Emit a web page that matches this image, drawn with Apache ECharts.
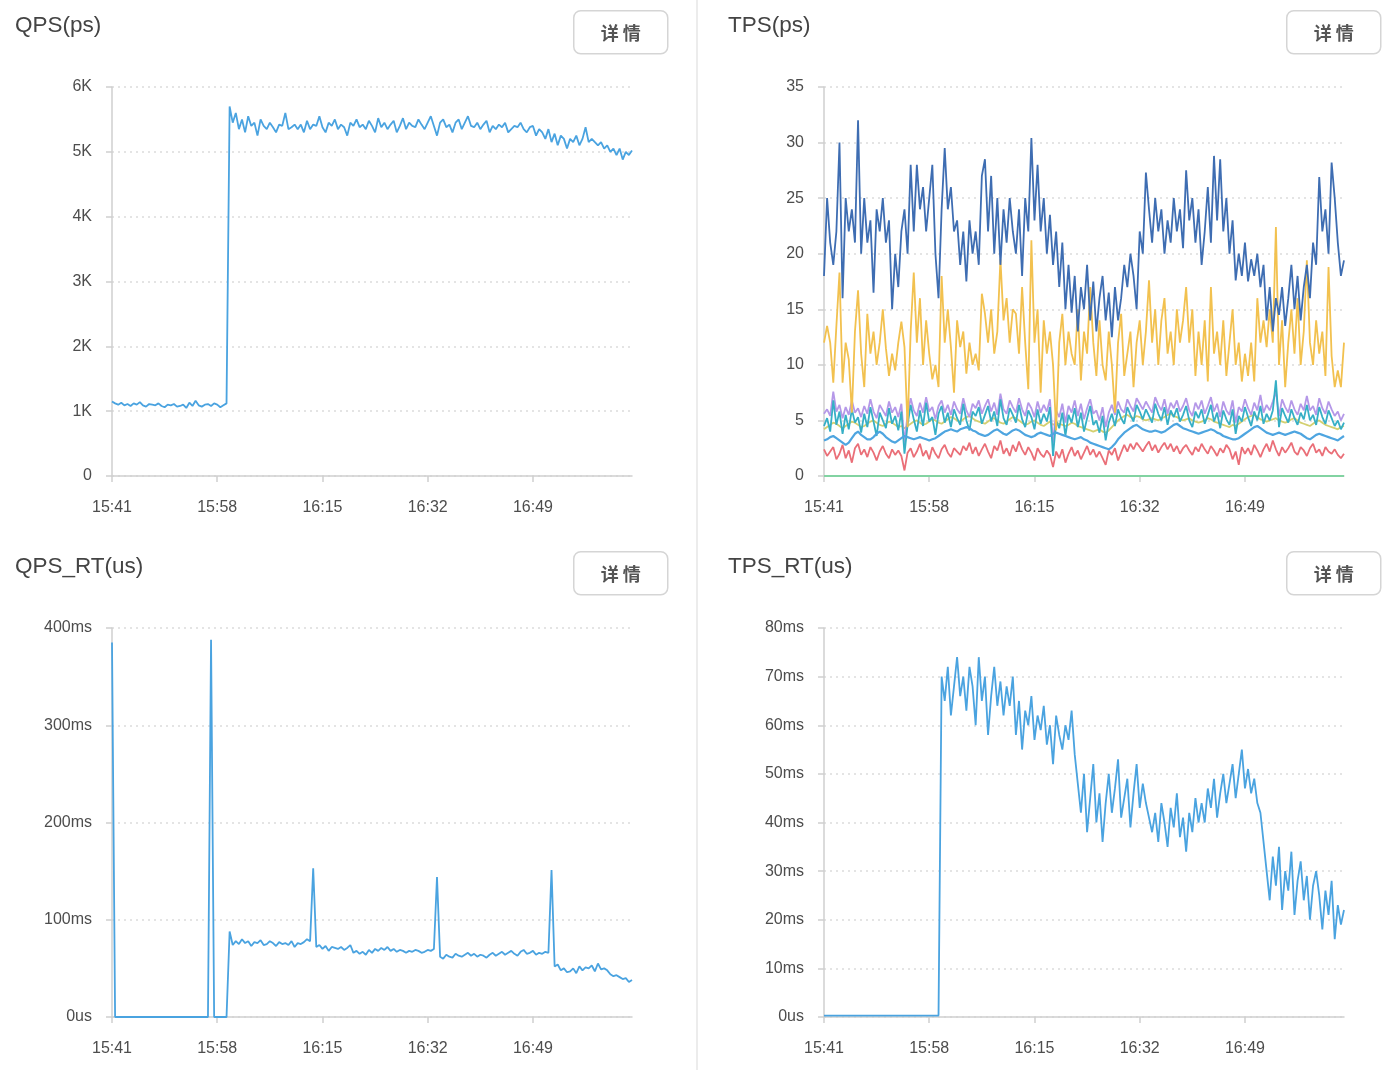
<!DOCTYPE html>
<html>
<head>
<meta charset="utf-8">
<title>QPS / TPS</title>
<script src="https://cdn.jsdelivr.net/npm/echarts@6.0.0/dist/echarts.min.js"></script>
<style>
  html, body { margin: 0; padding: 0; background: #fff; }
  #main { width: 1392px; height: 1070px; }
</style>
</head>
<body>
<div id="main"></div>
<script>
// 30s samples from 15:41:00 to 17:05:00
const tickLabels = ['15:41', '15:58', '16:15', '16:32', '16:49'];

const qps = [
  1150, 1120, 1100, 1130, 1090, 1110, 1080, 1120, 1100, 1140, 1090, 1070, 1110,
  1100, 1090, 1120, 1080, 1060, 1100, 1090, 1110, 1070, 1080, 1100, 1050, 1130,
  1080, 1160, 1090, 1070, 1100, 1110, 1080, 1120, 1100, 1060, 1090, 1120, 5700,
  5450, 5600, 5350, 5500, 5300, 5550, 5400, 5450, 5250, 5500, 5400, 5350, 5450,
  5380, 5300, 5420, 5400, 5600, 5350, 5380, 5420, 5350, 5420, 5300, 5480, 5350,
  5420, 5400, 5550, 5380, 5300, 5450, 5400, 5500, 5350, 5420, 5380, 5250, 5450,
  5400, 5500, 5380, 5420, 5350, 5480, 5400, 5300, 5520, 5380, 5450, 5350, 5420,
  5480, 5300, 5400, 5520, 5350, 5450, 5400, 5380, 5500, 5420, 5350, 5450, 5550,
  5400, 5250, 5450, 5500, 5380, 5420, 5300, 5450, 5500, 5350, 5450, 5550, 5400,
  5380, 5450, 5350, 5420, 5480, 5300, 5400, 5350, 5420, 5380, 5450, 5300, 5350,
  5400, 5380, 5450, 5350, 5300, 5380, 5400, 5250, 5350, 5300, 5200, 5350, 5150,
  5280, 5100, 5250, 5200, 5050, 5200, 5150, 5250, 5100, 5200, 5380, 5150, 5200,
  5150, 5100, 5150, 5050, 5100, 5000, 5050, 4950, 5050, 4880, 5000, 4950, 5020
];

const tpsBlue = [
  18, 25, 21, 19, 22, 30, 16, 25, 22, 24, 21, 32, 20,
  25, 21, 23, 16.5, 24, 22, 25, 21, 23, 15, 20, 17, 22,
  24, 20, 28, 22, 28, 24, 26, 22, 25, 28, 20, 16, 24,
  29.5, 24, 26, 22, 23, 19, 22, 17.5, 23, 20, 22, 19, 27,
  28.5, 22, 27, 20, 25, 19, 24, 21, 25, 22, 20, 24, 18,
  25, 22, 30.4, 23, 28, 22, 25, 20, 23.5, 19, 22, 17, 21,
  15, 19, 14.7, 18, 13, 17, 15, 19, 14, 17.5, 13, 16, 18,
  14, 16.5, 12.5, 17, 14, 16, 19, 17, 20, 18, 15, 22, 20,
  27.3, 24, 21, 25, 22, 24, 20, 23, 21, 25, 22, 24, 20.5,
  27.5, 23, 25, 21, 24, 19, 22, 26, 21, 28.8, 23, 28.5, 22,
  25, 20, 23, 17.6, 20, 18, 21, 17.5, 19.5, 18, 20, 17, 19,
  14, 17, 13, 16, 14.5, 17, 13.5, 16, 19, 15, 18, 14, 17,
  19, 16, 21, 19, 26.9, 22, 24, 20, 28.2, 25, 21, 18, 19.4
];

const tpsYellow = [
  12, 13.5, 12, 8.4, 13.5, 18.3, 8.4, 12, 10.5, 5.7, 13, 16.7, 11,
  8, 14.6, 11, 13, 10, 12, 15, 11.5, 9, 11, 9.5, 12, 13.9,
  11.6, 4.4, 13, 18.3, 12, 16, 10, 14, 11, 8.7, 10, 8, 18,
  12, 15, 11.6, 7.5, 14, 11.6, 13, 9.2, 12, 10, 11, 9.5, 16.4,
  14.6, 12, 15, 11, 13, 19.5, 14, 16, 12, 15, 14.6, 11, 17,
  12, 7.8, 21.2, 12, 15, 7.5, 14, 11, 13, 10, 4.1, 12, 14.6,
  10, 13, 11, 10, 15, 8.6, 13, 11, 17, 12, 9, 14, 10,
  8.6, 13, 10, 5.7, 12, 14.6, 9, 11, 13, 8, 12, 14, 10,
  13, 17.6, 12, 15, 10, 14, 16, 11, 13, 10, 15, 12, 14,
  17, 12, 15, 9, 13, 10, 14, 8.5, 17, 11, 13, 10, 14,
  9, 12, 15, 10, 12, 8.5, 11, 9, 12, 8.5, 16, 12, 14,
  11.6, 15, 12, 22.4, 10, 14, 8, 12, 15, 11, 16, 10, 13,
  19.4, 12, 10, 14, 11, 13, 9, 18.8, 10.8, 8, 9.5, 8, 12
];

const tpsPurple = [
  5.6, 6.0, 5.4, 7.6, 5.8, 6.4, 5.2, 6.2, 5.5, 6.8, 5.7, 6.1, 5.3,
  6.3, 5.6, 6.9, 5.8, 5.2, 6.4, 5.9, 5.4, 6.7, 5.7, 6.2, 5.3, 6.5,
  3.0, 5.5, 7.0, 5.9, 5.4, 6.6, 5.7, 7.1, 5.8, 6.2, 5.1, 6.3, 6.8,
  5.7, 6.4, 5.5, 6.7, 6.0, 5.6, 7.0, 5.9, 5.3, 6.5, 6.1, 6.8, 5.6,
  6.3, 6.9, 5.8, 6.6, 5.5, 7.4, 6.0, 5.6, 6.8, 6.2, 5.7, 7.0, 6.0,
  5.4, 6.6, 6.1, 5.3, 6.7, 5.7, 6.4, 5.8, 6.9, 3.0, 5.9, 5.3, 6.5,
  4.8, 6.3, 5.7, 6.8, 5.4, 6.5, 5.1, 6.1, 6.9, 5.6, 5.9, 5.0, 6.2,
  4.4, 5.7, 6.4, 5.5, 6.7, 6.0, 5.7, 6.9, 6.3, 5.8, 7.0, 6.5, 6.0,
  6.7, 6.2, 5.7, 7.1, 6.4, 5.9, 6.9, 5.6, 6.6, 6.1, 6.8, 5.8, 6.3,
  7.0, 5.9, 5.4, 6.6, 6.0, 6.8, 5.6, 6.3, 7.1, 5.8, 6.5, 5.3, 6.7,
  5.9, 5.5, 6.8, 4.8, 6.2, 5.8, 6.9, 6.1, 5.5, 6.6, 5.9, 7.3, 5.7,
  6.4, 5.9, 6.7, 7.6, 5.4, 6.9, 6.2, 5.7, 6.8, 6.0, 5.5, 6.5, 5.9,
  7.2, 5.9, 6.3, 5.5, 7.0, 6.1, 5.6, 6.7, 6.0, 5.4, 5.8, 5.0, 5.6
];

const tpsTeal = [
  4.5, 5.2, 4.0, 6.8, 4.6, 5.8, 3.8, 5.5, 4.2, 6.0, 4.8, 5.3, 3.9,
  5.6, 4.4, 6.2, 4.9, 3.6, 5.7, 5.0, 4.3, 6.1, 4.7, 5.4, 4.1, 5.8,
  2.0, 4.6, 6.4, 5.1, 4.0, 5.9, 4.5, 6.6, 4.9, 5.3, 3.7, 5.6, 6.3,
  4.8, 5.7, 4.4, 6.0, 5.2, 4.6, 6.5, 5.0, 4.1, 5.8, 5.4, 6.2, 4.7,
  5.5, 6.3, 4.9, 5.8, 4.5, 6.9, 5.2, 4.6, 6.1, 5.5, 4.8, 6.4, 5.1,
  4.4, 5.9, 5.3, 4.2, 6.0, 4.7, 5.6, 4.9, 6.2, 1.8, 5.0, 4.3, 5.7,
  3.6, 5.5, 4.8, 6.1, 4.4, 5.7, 4.0, 5.2, 6.3, 4.6, 5.0, 3.9, 5.4,
  3.2, 4.8, 5.6, 4.5, 6.0, 5.2, 4.7, 6.2, 5.5, 4.9, 6.4, 5.8, 5.1,
  6.0, 5.4, 4.8, 6.5, 5.6, 5.0, 6.2, 4.6, 5.9, 5.3, 6.1, 4.9, 5.5,
  6.3, 5.0, 4.4, 5.8, 5.2, 6.0, 4.7, 5.5, 6.4, 4.9, 5.7, 4.3, 5.9,
  5.1, 4.6, 6.0, 3.8, 5.4, 4.9, 6.2, 5.3, 4.5, 5.8, 5.0, 6.3, 4.7,
  5.6, 5.0, 5.9, 8.6, 4.4, 6.1, 5.4, 4.8, 6.0, 5.2, 4.6, 5.7, 5.1,
  6.4, 5.0, 5.5, 4.6, 6.2, 5.3, 4.7, 5.9, 5.2, 4.5, 5.0, 4.2, 4.8
];

const tpsOlive = [
  4.2, 4.4, 4.6, 4.8, 4.7, 4.5, 4.3, 4.5, 4.7, 4.9, 4.8, 4.6, 4.4,
  4.5, 4.7, 4.9, 5.0, 4.8, 4.6, 4.5, 4.7, 4.9, 4.8, 4.6, 4.4, 4.5,
  4.3, 4.5, 4.7, 4.9, 5.0, 4.8, 4.6, 4.7, 4.9, 5.1, 5.0, 4.8, 4.7,
  4.9, 5.1, 5.3, 5.2, 5.0, 4.9, 5.1, 5.3, 5.4, 5.2, 5.0, 4.9, 4.8,
  4.7, 4.9, 5.1, 5.2, 5.0, 4.8, 4.7, 4.9, 5.1, 5.3, 5.2, 5.0, 4.8,
  4.6, 4.7, 4.9, 5.0, 4.8, 4.6, 4.5, 4.7, 4.9, 4.6, 4.8, 4.7, 4.6,
  4.5, 4.6, 4.8, 4.7, 4.5, 4.4, 4.3, 4.2, 4.1, 4.0, 4.1, 4.2, 4.0,
  3.9, 4.1, 4.4, 4.7, 5.0, 5.2, 5.4, 5.5, 5.3, 5.2, 5.4, 5.3, 5.1,
  5.0, 5.1, 5.2, 5.1, 5.0, 5.2, 5.3, 5.5, 5.6, 5.4, 5.3, 5.1, 5.0,
  5.1, 5.2, 5.0, 4.9, 4.8, 4.9, 5.0, 5.2, 5.1, 4.9, 4.8, 4.7, 4.6,
  4.5, 4.4, 4.6, 4.5, 4.7, 4.9, 5.1, 5.3, 5.4, 5.5, 5.3, 5.1, 5.0,
  4.9, 5.0, 5.1, 5.2, 5.0, 4.9, 4.8, 4.9, 5.1, 5.2, 5.0, 4.8, 4.7,
  4.6, 4.5, 4.7, 4.9, 5.0, 4.8, 4.6, 4.5, 4.4, 4.3, 4.2, 4.4, 4.5
];

const tpsLightBlue = [
  3.2, 3.3, 3.5, 3.6, 3.4, 3.2, 3.0, 2.8, 3.0, 3.4, 3.8, 4.0, 3.7,
  3.5, 3.3, 3.3, 3.5, 3.8, 4.0, 3.8, 3.5, 3.3, 3.1, 3.0, 3.2, 3.4,
  3.6, 3.5, 3.4, 3.3, 3.4, 3.5, 3.4, 3.3, 3.2, 3.3, 3.4, 3.6, 3.8,
  4.0, 4.1, 4.2, 4.1, 4.0, 4.2, 4.3, 4.4, 4.3, 4.1, 4.0, 3.8, 3.7,
  3.6, 3.7, 3.9, 4.1, 4.2, 4.0, 3.8, 3.7, 3.9, 4.1, 4.2, 4.1, 3.9,
  3.7, 3.6, 3.5, 3.6, 3.8, 3.9, 3.8, 3.7, 3.6, 3.8, 3.9, 3.8, 3.7,
  3.6, 3.5, 3.4, 3.3, 3.4, 3.5, 3.3, 3.2, 3.0, 2.9, 2.8, 2.7, 2.6,
  2.5, 2.4, 2.6, 2.9, 3.3, 3.6, 3.9, 4.1, 4.3, 4.5, 4.6, 4.4, 4.2,
  4.1, 4.0, 4.0, 4.1, 4.0, 3.9, 4.0, 4.2, 4.4, 4.6, 4.7, 4.5, 4.3,
  4.2, 4.1, 4.0, 3.9, 3.8, 3.9, 4.0, 4.1, 4.2, 4.1, 3.9, 3.8, 3.6,
  3.5, 3.4, 3.3, 3.3, 3.4, 3.6, 3.8, 4.0, 4.2, 4.4, 4.5, 4.3, 4.1,
  3.9, 3.8, 3.7, 3.8, 3.9, 3.8, 3.7, 3.8, 3.9, 4.0, 3.9, 3.8, 3.6,
  3.4, 3.3, 3.5, 3.7, 3.8, 3.7, 3.6, 3.5, 3.4, 3.3, 3.2, 3.4, 3.6
];

const tpsRed = [
  2.4, 1.8, 2.2, 2.6, 1.5, 2.0, 2.8, 1.6, 2.3, 1.2, 2.5, 2.9, 1.9,
  2.4, 1.7, 2.6, 2.1, 1.4, 2.2, 2.7, 2.0, 1.6, 2.4, 1.9, 2.3, 1.8,
  0.5, 2.1, 2.5, 1.7, 2.2, 2.9, 1.8, 2.3, 1.5, 2.6, 2.0, 1.6, 2.4,
  2.8, 2.1, 1.7, 2.5, 2.2, 1.9, 2.7, 2.3, 3.0, 2.0, 2.6, 1.8, 2.4,
  2.9, 2.2, 1.6, 2.7, 2.3, 3.2, 2.0, 2.5, 1.8, 2.8, 2.2, 3.1, 2.4,
  1.9, 2.6, 2.1, 1.4, 2.5, 2.0, 1.7, 2.3, 1.9, 0.8, 2.2, 1.6, 2.4,
  1.2, 2.0, 2.6, 1.8, 2.3, 1.5, 2.1, 2.7, 1.9, 2.4, 1.7, 2.2, 1.6,
  1.0, 2.3, 1.9, 2.5, 1.4, 2.1, 2.8, 2.2, 2.9, 2.4, 3.0, 2.6, 2.2,
  2.7, 3.1, 2.3, 2.8, 2.1, 2.6, 3.0, 2.4, 2.9, 2.2, 2.7, 2.0, 2.5,
  2.8, 2.3, 1.9, 2.6, 2.2, 2.9, 2.4, 2.0, 2.7, 2.3, 1.8, 2.5, 2.1,
  2.8, 2.4, 1.5, 2.2, 1.0, 2.6, 2.0, 2.5, 1.9, 2.8, 2.3, 1.7, 2.4,
  2.9, 2.2, 3.2, 2.4, 1.8, 2.6, 2.1, 2.5, 3.0, 2.2, 1.9, 2.6, 2.3,
  1.8, 2.5, 2.9, 2.1, 2.4, 1.8, 2.6, 2.2, 2.0, 2.4, 1.9, 1.6, 2.0
];

const tpsGreen = [
  0, 0, 0, 0, 0, 0, 0, 0, 0, 0, 0, 0, 0,
  0, 0, 0, 0, 0, 0, 0, 0, 0, 0, 0, 0, 0,
  0, 0, 0, 0, 0, 0, 0, 0, 0, 0, 0, 0, 0,
  0, 0, 0, 0, 0, 0, 0, 0, 0, 0, 0, 0, 0,
  0, 0, 0, 0, 0, 0, 0, 0, 0, 0, 0, 0, 0,
  0, 0, 0, 0, 0, 0, 0, 0, 0, 0, 0, 0, 0,
  0, 0, 0, 0, 0, 0, 0, 0, 0, 0, 0, 0, 0,
  0, 0, 0, 0, 0, 0, 0, 0, 0, 0, 0, 0, 0,
  0, 0, 0, 0, 0, 0, 0, 0, 0, 0, 0, 0, 0,
  0, 0, 0, 0, 0, 0, 0, 0, 0, 0, 0, 0, 0,
  0, 0, 0, 0, 0, 0, 0, 0, 0, 0, 0, 0, 0,
  0, 0, 0, 0, 0, 0, 0, 0, 0, 0, 0, 0, 0,
  0, 0, 0, 0, 0, 0, 0, 0, 0, 0, 0, 0, 0
];

// ms
const qpsRt = [
  385, 0, 0, 0, 0, 0, 0, 0, 0, 0, 0, 0, 0,
  0, 0, 0, 0, 0, 0, 0, 0, 0, 0, 0, 0, 0,
  0, 0, 0, 0, 0, 0, 388, 0, 0, 0, 0, 0, 88,
  74, 78, 75, 80, 76, 78, 73, 77, 76, 79, 74, 75, 78,
  76, 73, 77, 75, 76, 74, 78, 72, 76, 75, 77, 80, 78,
  153, 72, 74, 70, 73, 68, 72, 71, 70, 72, 69, 71, 74,
  66, 68, 65, 67, 64, 69, 66, 70, 68, 71, 69, 72, 68,
  70, 67, 69, 68, 66, 68, 67, 69, 68, 66, 67, 69, 68,
  70, 144, 62, 60, 64, 62, 61, 65, 63, 62, 64, 66, 63,
  65, 62, 64, 63, 61, 64, 66, 63, 65, 67, 64, 66, 68,
  65, 63, 67, 69, 65, 66, 68, 64, 66, 65, 67, 66, 151,
  52, 54, 48, 50, 46, 47, 50, 45, 52, 48, 51, 50, 53,
  47, 55, 49, 50, 48, 44, 42, 43, 41, 39, 40, 36, 38
];

// ms
const tpsRt = [
  0.3, 0.3, 0.3, 0.3, 0.3, 0.3, 0.3, 0.3, 0.3, 0.3, 0.3, 0.3, 0.3,
  0.3, 0.3, 0.3, 0.3, 0.3, 0.3, 0.3, 0.3, 0.3, 0.3, 0.3, 0.3, 0.3,
  0.3, 0.3, 0.3, 0.3, 0.3, 0.3, 0.3, 0.3, 0.3, 0.3, 0.3, 0.3, 70,
  65, 72, 62, 68, 74, 66, 70, 63, 72, 68, 60, 74, 65,
  70, 58, 66, 72, 64, 69, 62, 68, 64, 70, 58, 65, 55,
  63, 60, 66, 57, 62, 59, 64, 56, 60, 52, 62, 58, 55,
  60, 57, 63, 54, 48, 42, 50, 38, 45, 52, 40, 46, 36,
  44, 50, 42, 47, 53, 41, 45, 49, 39, 46, 52, 43, 48,
  44, 41, 38, 42, 36, 44, 40, 35, 43, 39, 46, 37, 41,
  34, 42, 38, 45, 40, 44, 40, 47, 43, 49, 41, 46, 50,
  44, 48, 52, 45, 50, 55, 47, 51, 46, 49, 44, 42, 36,
  30, 24, 33, 27, 35, 22, 30, 26, 34, 21, 28, 32, 24,
  29, 20, 27, 30, 25, 18, 26, 21, 28, 16, 23, 19, 22
];

const times = [];
for (let i = 0; i < qps.length; i++) {
  const s = (15 * 60 + 41) * 60 + i * 30;
  const hh = String(Math.floor(s / 3600)).padStart(2, '0');
  const mm = String(Math.floor(s / 60) % 60).padStart(2, '0');
  const ss = String(s % 60).padStart(2, '0');
  times.push(hh + ':' + mm + ':' + ss);
}

const FONT = '"Liberation Sans", Arial, sans-serif';
const AXIS_GRAY = '#cfcfcf';
const LABEL_GRAY = '#4d4d4d';

const showTick = (idx, val) => val.slice(6) === '00' && tickLabels.indexOf(val.slice(0, 5)) >= 0;

const grids = [
  { left: 112, top: 87, width: 520, height: 389 },
  { left: 824, top: 87, width: 520, height: 389 },
  { left: 112, top: 628, width: 520, height: 389 },
  { left: 824, top: 628, width: 520, height: 389 }
];

const xAxes = grids.map((g, i) => ({
  type: 'category',
  gridIndex: i,
  data: times,
  boundaryGap: false,
  axisLine: { lineStyle: { color: AXIS_GRAY, width: 1.5 } },
  axisTick: { interval: showTick, length: 6, lineStyle: { color: AXIS_GRAY, width: 1.5 } },
  axisLabel: {
    interval: showTick,
    formatter: v => v.slice(0, 5),
    color: LABEL_GRAY, fontSize: 16, fontFamily: FONT, margin: 24
  },
  splitLine: { show: false }
}));

function yAxis(i, max, interval, fmt) {
  return {
    type: 'value',
    gridIndex: i,
    min: 0, max: max, interval: interval,
    axisLine: { show: true, lineStyle: { color: AXIS_GRAY, width: 1.5 } },
    axisTick: { show: true, length: 6, lineStyle: { color: AXIS_GRAY, width: 1.5 } },
    axisLabel: { formatter: fmt, color: LABEL_GRAY, fontSize: 16, fontFamily: FONT, margin: 20 },
    splitLine: { lineStyle: { color: '#dcdcdc', type: [2, 4], width: 1.5 } }
  };
}

const msFmt = v => (v === 0 ? '0us' : v + 'ms');

const yAxes = [
  yAxis(0, 6000, 1000, v => (v === 0 ? '0' : v / 1000 + 'K')),
  yAxis(1, 35, 5, v => String(v)),
  yAxis(2, 400, 100, msFmt),
  yAxis(3, 80, 10, msFmt)
];

function line(i, data, color, width) {
  return {
    type: 'line', xAxisIndex: i, yAxisIndex: i, data: data,
    showSymbol: false, symbol: 'none',
    lineStyle: { color: color, width: width || 1.8 },
    itemStyle: { color: color },
    silent: true
  };
}

const series = [
  line(0, qps, '#4aa3e0'),
  line(1, tpsGreen, '#82d3a2', 2.2),
  line(1, tpsRed, '#ea6f78'),
  line(1, tpsOlive, '#d4d070'),
  line(1, tpsPurple, '#b598e8'),
  line(1, tpsTeal, '#36afc6'),
  line(1, tpsLightBlue, '#4ea5e0', 2.2),
  line(1, tpsYellow, '#f2c14f'),
  line(1, tpsBlue, '#3e6db2'),
  line(2, qpsRt, '#4aa3e0'),
  line(3, tpsRt, '#4aa3e0')
];

const titleStyle = { color: '#444', fontSize: 22.5, fontWeight: 'normal', fontFamily: FONT };
const titles = [
  { text: 'QPS(ps)', left: 15, top: 14 },
  { text: 'TPS(ps)', left: 728, top: 14 },
  { text: 'QPS_RT(us)', left: 15, top: 555 },
  { text: 'TPS_RT(us)', left: 728, top: 555 }
].map(t => Object.assign({ textStyle: titleStyle, padding: 0 }, t));

function button(x, y) {
  return {
    type: 'group', left: x, top: y,
    children: [
      { type: 'rect', shape: { x: 0, y: 0, width: 94, height: 43, r: 7 },
        style: { fill: '#fff', stroke: '#d5d5d5', lineWidth: 1.5 } },
      { type: 'text', x: 47, y: 22,
        style: { text: '详 情', fill: '#555', font: 'bold 18px "Noto Sans CJK SC", sans-serif',
                 textAlign: 'center', textVerticalAlign: 'middle' } }
    ]
  };
}

const chart = echarts.init(document.getElementById('main'));
chart.setOption({
  animation: false,
  backgroundColor: '#fff',
  title: titles,
  grid: grids,
  xAxis: xAxes,
  yAxis: yAxes,
  series: series,
  graphic: [
    { type: 'line', shape: { x1: 697, y1: 0, x2: 697, y2: 1070 },
      style: { stroke: '#e6e6e6', lineWidth: 1.5 } },
    button(573, 10),
    button(1286, 10),
    button(573, 551),
    button(1286, 551)
  ]
});
</script>
</body>
</html>
